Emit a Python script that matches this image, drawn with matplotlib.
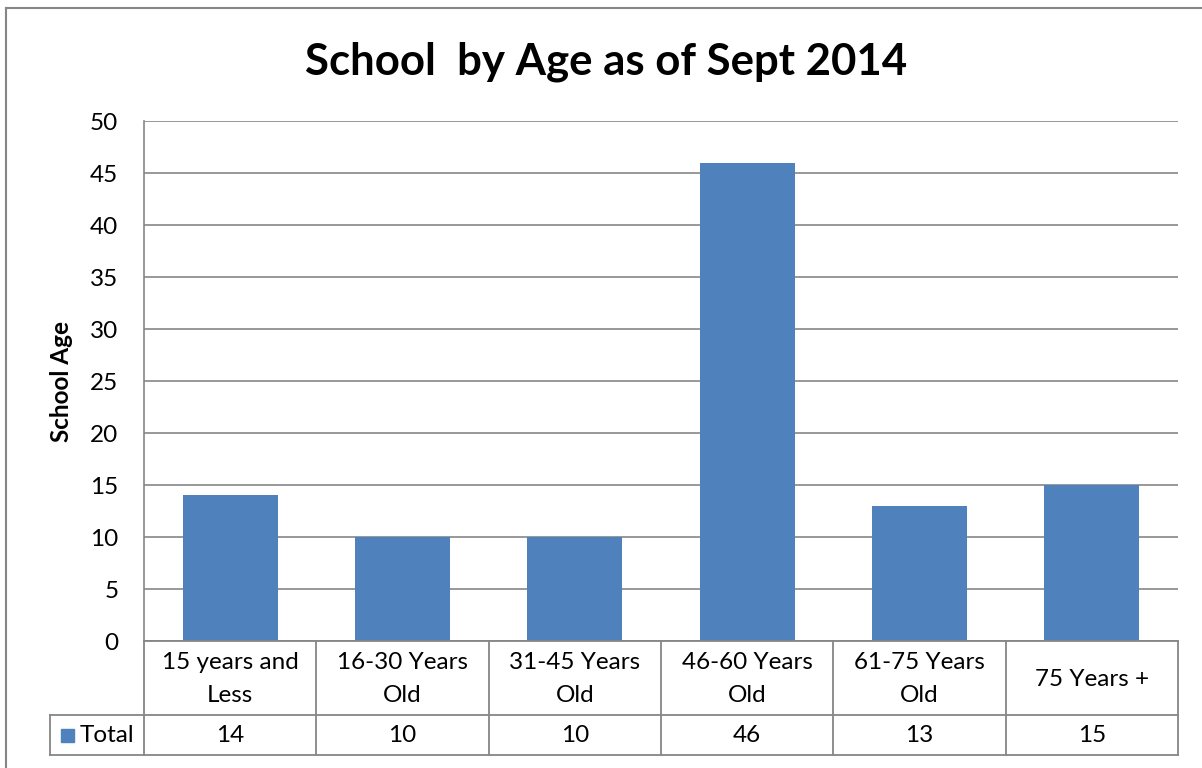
import matplotlib
matplotlib.use("Agg")
import matplotlib.pyplot as plt
from matplotlib.lines import Line2D
from matplotlib.patches import Rectangle

categories = ["15 years and\nLess", "16-30 Years\nOld", "31-45 Years\nOld",
              "46-60 Years\nOld", "61-75 Years\nOld", "75 Years +"]
values = [14, 10, 10, 46, 13, 15]
series_name = "Total"
yticks = [0, 5, 10, 15, 20, 25, 30, 35, 40, 45, 50]
title = "School  by Age as of Sept 2014"
ylabel = "School Age"

W, H = 1202, 768
plt.rcParams['font.family'] = ['Lato', 'DejaVu Sans']
fig = plt.figure(figsize=(W / 100, H / 100), dpi=100)

def fx(px):
    return px / W

def fy(py):
    return 1 - py / H

bar_color = "#4F81BD"
grid_color = "#868686"
fs = 17.5

# outer chart border (left and top visible)
fig.add_artist(Line2D([fx(6), fx(6)], [fy(8), fy(770)], color=grid_color, lw=1.5))
fig.add_artist(Line2D([fx(6), fx(1210)], [fy(8), fy(8)], color=grid_color, lw=1.5))

left, right, top, bottom = 144, 1178, 121, 641
ax = fig.add_axes([fx(left), fy(bottom), fx(right - left), (bottom - top) / H])
x = list(range(len(categories)))
ax.bar(x, values, width=0.55, color=bar_color, zorder=3)
ax.set_xlim(-0.5, len(categories) - 0.5)
ax.set_ylim(0, 50)
ax.set_yticks(yticks)
ax.set_yticklabels([str(t) for t in yticks], fontsize=fs)
ax.tick_params(axis='y', length=0, pad=18.5)
ax.set_xticks([])
ax.yaxis.grid(True, color=grid_color, lw=1.2, zorder=0)
for s in ['top', 'right', 'bottom']:
    ax.spines[s].set_visible(False)
ax.spines['left'].set_color(grid_color)
ax.spines['left'].set_linewidth(1.2)
ax.set_ylabel(ylabel, fontsize=fs, fontweight='bold', labelpad=12)

fig.text(fx(606), fy(62), title, fontsize=31.5, fontweight='bold', ha='center', va='center')

# data table below
row1_top, row1_bot, row2_bot = 641, 715, 755
legend_left = 50
ncat = len(categories)
colw = (right - left) / ncat
lw = 1.3
fig.add_artist(Line2D([fx(left), fx(right)], [fy(row1_top)] * 2, color=grid_color, lw=lw))
fig.add_artist(Line2D([fx(legend_left), fx(right)], [fy(row1_bot)] * 2, color=grid_color, lw=lw))
fig.add_artist(Line2D([fx(legend_left), fx(right)], [fy(row2_bot)] * 2, color=grid_color, lw=lw))
fig.add_artist(Line2D([fx(legend_left)] * 2, [fy(row1_bot), fy(row2_bot)], color=grid_color, lw=lw))
for i in range(ncat + 1):
    xx = left + i * colw
    fig.add_artist(Line2D([fx(xx)] * 2, [fy(row1_top), fy(row2_bot)], color=grid_color, lw=lw))

for i, (c, v) in enumerate(zip(categories, values)):
    cx = left + (i + 0.5) * colw
    fig.text(fx(cx), fy((row1_top + row1_bot) / 2 + 1), c, fontsize=fs, ha='center',
             va='center', linespacing=1.65)
    fig.text(fx(cx), fy((row1_bot + row2_bot) / 2 + 1), str(v), fontsize=fs,
             ha='center', va='center')

# legend key
fig.add_artist(Rectangle((fx(61), fy(742)), fx(13), 13 / H, color=bar_color))
fig.text(fx(80), fy(736), series_name, fontsize=fs, ha='left', va='center')

fig.savefig("out.png", dpi=100)
